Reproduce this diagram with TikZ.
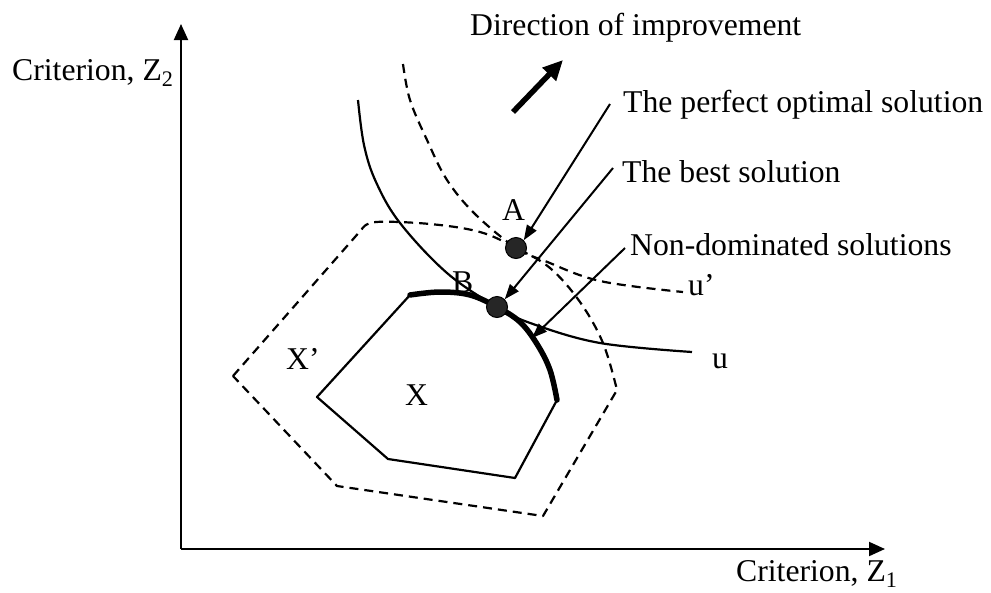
\documentclass[tikz,border=0pt]{standalone}
\usepackage{fontspec}
\setmainfont{Liberation Serif}
\usetikzlibrary{arrows.meta}
\tikzset{
  lbl/.style={font=\fontsize{31.7pt}{38pt}\selectfont, inner sep=0pt, anchor=base west},
  axisline/.style={line width=2pt, -{Triangle[length=16pt,width=14pt]}},
  leader/.style={line width=2pt, -{Triangle[length=15pt,width=11pt]}},
  dirarrow/.style={line width=5.5pt, -{Triangle[length=20pt,width=18pt]}},
  bound/.style={line width=2.2pt, dash pattern=on 9pt off 6pt},
  solidline/.style={line width=2.2pt},
  frontier/.style={line width=5.5pt, line cap=round},
  solpt/.style={circle, fill=black!85, draw=black, line width=1pt, minimum size=21pt, inner sep=0pt}
}
\begin{document}
\begin{tikzpicture}[x=1pt,y=-1pt]
\path[use as bounding box] (0,0) rectangle (991,592);

% axes
\coordinate (O) at (181,549);
\coordinate (Ytip) at (181,24);
\coordinate (Xtip) at (885,549);
\draw[axisline] (O) -- (Ytip);
\draw[axisline] (O) -- (Xtip);
\node[lbl] (z2) at (12,80) {Criterion, Z\textsubscript{2}};
\node[lbl] (z1) at (736,581) {Criterion, Z\textsubscript{1}};

% direction of improvement
\node[lbl] (dir) at (470,35) {Direction of improvement};
\coordinate (dtail) at (513,112);
\coordinate (dhead) at (563,60);
\draw[dirarrow] (dtail) -- (dhead);

% X' (dashed feasible region)
\draw[bound, line join=round] (233,376) -- (362,229)
  -- plot[smooth, tension=0.6] coordinates {(362,229) (376,222) (430,224) (480,232) (516,248) (550,268) (580,302) (603,343) (617,390)}
  -- (543,516) -- (337,486) -- cycle;

% indifference curves
\draw[solidline] plot[smooth, tension=0.6] coordinates {(358,100) (364,145) (376,182) (400,223) (447,273) (497,307) (533,324) (600,343) (692,352)};
\draw[bound] plot[smooth, tension=0.6] coordinates {(403,64) (410,100) (427,140) (447,180) (475,214) (516,248) (545,261) (600,281) (683,292)};

% X (solid feasible region)
\draw[solidline, line join=round] (557,400) -- (515,478) -- (388,459) -- (317,397) -- (410,295);
\draw[frontier] plot[smooth, tension=0.6] coordinates {(410,295) (440,292) (470,295) (497,307) (520,322) (537,344) (550,370) (557,400)};

% points
\node[solpt] (A) at (516,248) {};
\node[solpt] (B) at (497,307) {};
\node[lbl] (Alab) at (502,220) {A};
\node[lbl] (Blab) at (452,292) {B};
\node[lbl] (uplab) at (688,295) {u’};
\node[lbl] (ulab) at (712,368) {u};
\node[lbl] (Xplab) at (286,369) {X’};
\node[lbl] (Xlab) at (405,405) {X};

% callouts
\node[lbl] (perf) at (623,112) {The perfect optimal solution};
\node[lbl] (best) at (622,182) {The best solution};
\node[lbl] (nondom) at (630,255) {Non-dominated solutions};
\coordinate (l1) at (610,104);
\coordinate (l2) at (613,168);
\coordinate (l3) at (625,248);
\coordinate (t3) at (532,338);
\draw[leader] (l1) -- (A.north east);
\draw[leader] (l2) -- (B.north east);
\draw[leader] (l3) -- (t3);
\end{tikzpicture}
\end{document}
